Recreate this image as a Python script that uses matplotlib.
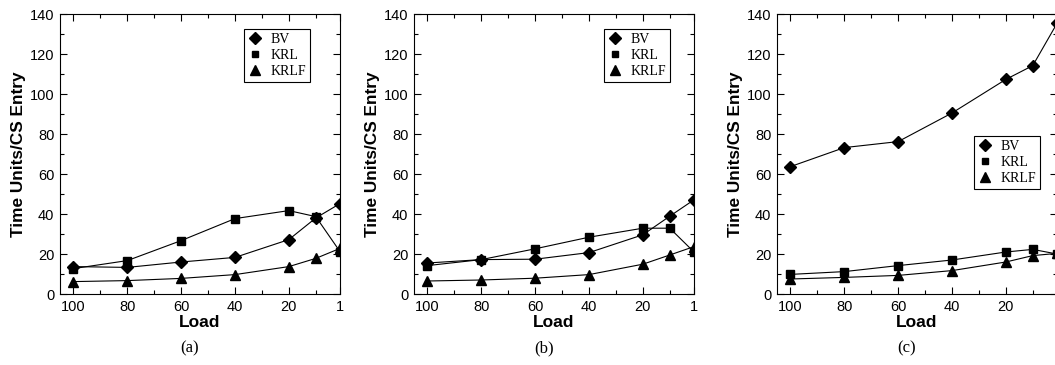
import matplotlib
matplotlib.use('Agg')
import matplotlib.pyplot as plt
from matplotlib.lines import Line2D
from matplotlib.ticker import MultipleLocator

load = [100, 80, 60, 40, 20, 10, 1]
tick_loads = [100, 80, 60, 40, 20, 1]

bv_a = [13.7, 13.3, 16.0, 18.3, 27.2, 38.0, 45.2]
krl_a = [12.7, 16.7, 26.7, 37.7, 41.7, 38.7, 21.2]
krlf_a = [6.2, 6.7, 7.8, 9.7, 13.7, 17.8, 22.8]

bv_b = [15.5, 17.2, 17.4, 20.7, 29.6, 38.9, 47.1]
krl_b = [14.2, 17.2, 22.6, 28.4, 32.9, 32.9, 21.0]
krlf_b = [6.5, 7.0, 7.9, 9.7, 14.9, 19.5, 23.7]

bv_c = [63.7, 73.2, 76.2, 90.5, 107.3, 114.2, 135.3]
krl_c = [9.8, 11.2, 14.2, 17.0, 21.0, 22.3, 20.0]
krlf_c = [7.5, 8.3, 9.3, 11.7, 16.0, 19.2, 20.3]

panels = [
    ('(a)', bv_a, krl_a, krlf_a, 60, (0.893, 0.946)),
    ('(b)', bv_b, krl_b, krlf_b, 414, (0.914, 0.946)),
    ('(c)', bv_c, krl_c, krlf_c, 777, (0.939, 0.564)),
]

W, H = 1055, 365
fig = plt.figure(figsize=(W / 100, H / 100), dpi=100)

sans = ['Liberation Sans', 'DejaVu Sans']
serif = ['Liberation Serif', 'DejaVu Serif']

for cap, bv, krl, krlf, left, leg_pos in panels:
    ax = fig.add_axes([left / W, (H - 294) / H, 280 / W, 280 / H])
    ax.plot(load, bv, color='black', lw=0.8, marker='D', ms=6.5)
    ax.plot(load, krl, color='black', lw=0.8, marker='s', ms=5.5)
    ax.plot(load, krlf, color='black', lw=0.8, marker='^', ms=7)
    ax.set_xlim(105, 1)
    ax.set_ylim(0, 140)
    ax.set_xticks(tick_loads)
    if cap == '(c)':
        # the last label falls past the figure edge in the original
        ax.set_xticklabels([str(t) for t in tick_loads[:-1]] + [''])
    ax.xaxis.set_minor_locator(MultipleLocator(10))
    ax.yaxis.set_major_locator(MultipleLocator(20))
    ax.yaxis.set_minor_locator(MultipleLocator(10))
    ax.tick_params(which='both', direction='in', top=True, right=True, width=0.8)
    ax.tick_params(which='major', length=5, labelsize=10.5, pad=4)
    ax.tick_params(which='minor', length=3)
    for lab in ax.get_xticklabels() + ax.get_yticklabels():
        lab.set_family(sans)
    for s in ax.spines.values():
        s.set_linewidth(0.8)
    ax.set_xlabel('Load', family=sans, fontweight='bold', fontsize=12.5)
    ax.set_ylabel('Time Units/CS Entry', family=sans, fontweight='bold', fontsize=12.4)
    ax.xaxis.set_label_coords(0.5, -0.075)
    ax.yaxis.set_label_coords(-0.12, 0.5)
    handles = [
        Line2D([], [], color='black', ls='none', marker='D', ms=6),
        Line2D([], [], color='black', ls='none', marker='s', ms=5),
        Line2D([], [], color='black', ls='none', marker='^', ms=6.5),
    ]
    leg = ax.legend(handles, ['BV', 'KRL', 'KRLF'], loc='upper right',
                    bbox_to_anchor=leg_pos, fancybox=False, framealpha=1,
                    edgecolor='black', prop={'family': serif, 'size': 10},
                    handlelength=1.0, handletextpad=0.6, borderpad=0.3,
                    labelspacing=0.2, borderaxespad=0)
    leg.get_frame().set_linewidth(0.8)
    fig.text((left + 130) / W, 1 - 348 / H, cap, family=serif, fontsize=12,
             ha='center', va='center')

fig.savefig('out.png', dpi=100)
